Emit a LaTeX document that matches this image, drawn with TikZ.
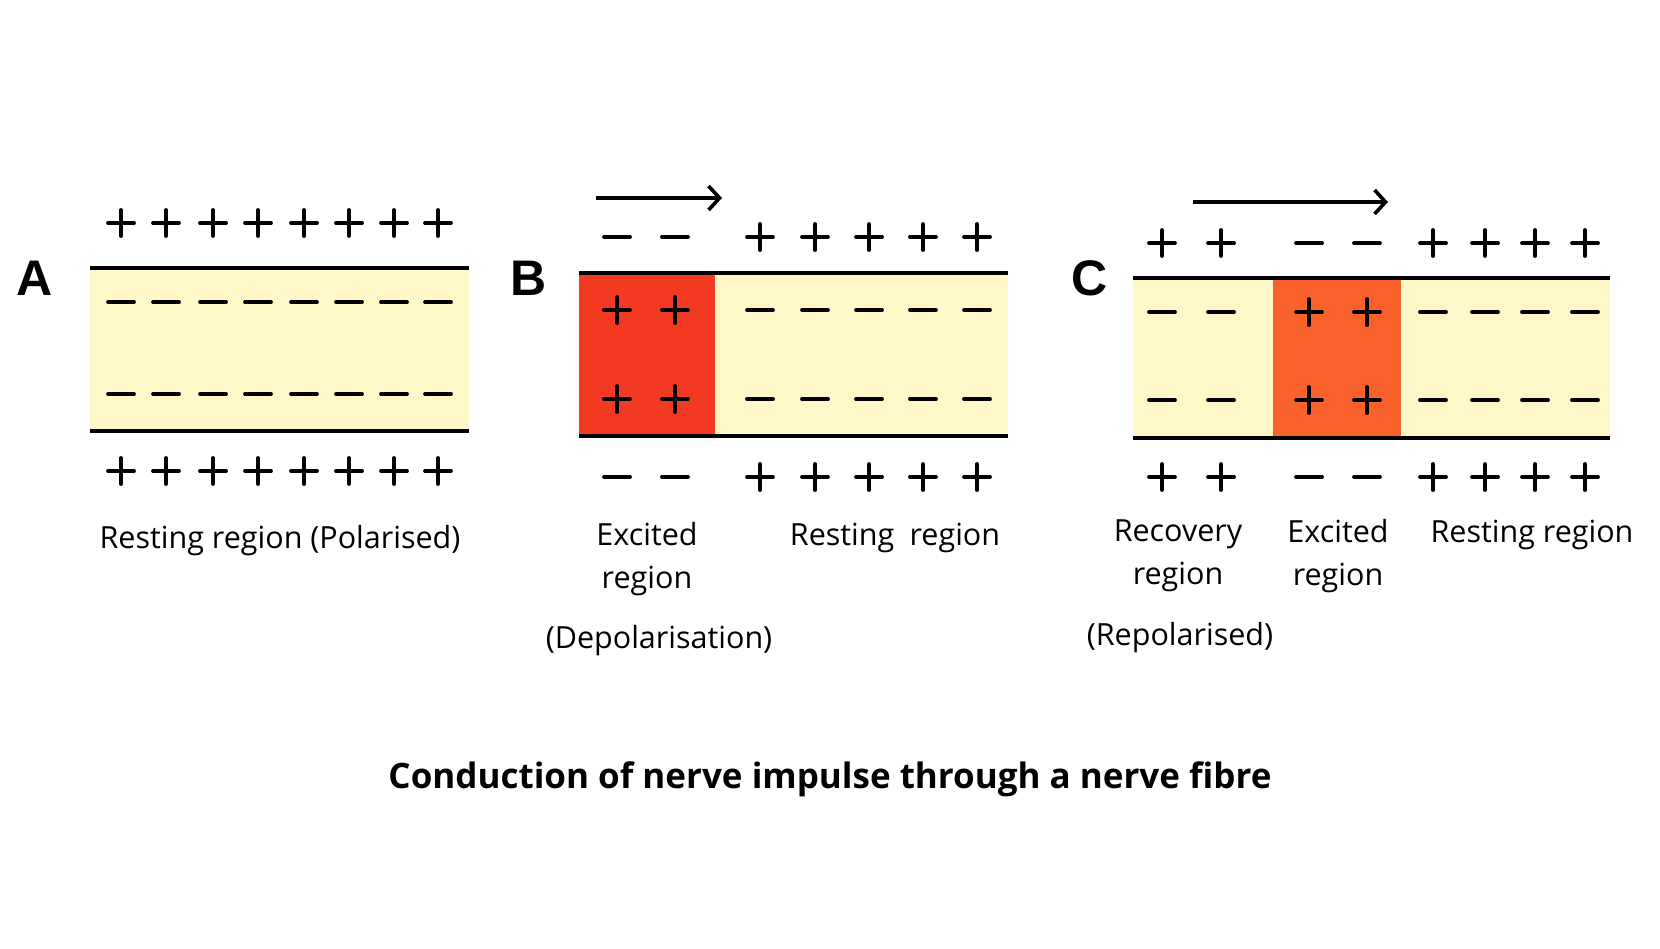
\documentclass[tikz,border=0pt]{standalone}
\usepackage{fontspec}
\setmainfont{Open Sans}
\newfontfamily\letterfont{Liberation Sans}
\usetikzlibrary{arrows.meta}
\definecolor{axo}{HTML}{FFF7C8}
\definecolor{exred}{HTML}{F23A22}
\definecolor{exorange}{HTML}{F9612B}
\tikzset{
  sign/.style={line width=3.8pt, line cap=round},
  membrane/.style={line width=4pt},
  lbl/.style={font=\fontsize{30.5}{43}\selectfont, align=center, inner sep=0pt},
  letter/.style={font=\fontsize{50}{50}\selectfont\letterfont\bfseries, inner sep=0pt},
  titlestyle/.style={font=\fontsize{35}{40}\selectfont\bfseries, inner sep=0pt},
  impulse/.style={line width=3.6pt, -{Straight Barb[length=11pt,width=24pt,line width=3.6pt]}},
  pics/plussign/.style={code={\draw[sign] (-13,0)--(13,0) (0,-13)--(0,13);}},
  pics/minussign/.style={code={\draw[sign] (-13,0)--(13,0);}},
}
\begin{document}
\begin{tikzpicture}[x=1pt,y=-1pt]
\useasboundingbox (0,0) rectangle (1660,948);
\fill[white] (0,0) rectangle (1660,948);

% ---------------- Panel A ----------------
\fill[axo] (90,268) rectangle (469,431);
\draw[membrane] (90,268) -- (469,268);
\draw[membrane] (90,431) -- (469,431);
\foreach \x in {121,166,213,258,304,349,394,438}{
  \pic at (\x,223) {plussign};
  \pic at (\x,302) {minussign};
  \pic at (\x,394) {minussign};
  \pic at (\x,471) {plussign};
}
\node[letter] (labA) at (35,278) {A};
\node[lbl] (restA) at (280,541) {Resting region (Polarised)};

% ---------------- Panel B ----------------
\fill[exred] (579,273) rectangle (715,436);
\fill[axo] (715,273) rectangle (1008,436);
\draw[membrane] (579,273) -- (1008,273);
\draw[membrane] (579,436) -- (1008,436);
\foreach \x in {617,675}{
  \pic at (\x,237) {minussign};
  \pic at (\x,310) {plussign};
  \pic at (\x,399) {plussign};
  \pic at (\x,477) {minussign};
}
\foreach \x in {760,815,869,923,977}{
  \pic at (\x,237) {plussign};
  \pic at (\x,310) {minussign};
  \pic at (\x,399) {minussign};
  \pic at (\x,477) {plussign};
}
\coordinate (bs) at (596,198);
\coordinate (be) at (722,198);
\draw[impulse] (bs) -- (be);
\node[letter] (labB) at (529,278) {B};
\node[lbl] (excB) at (647,559) {Excited\\region};
\node[lbl] (restB) at (895,538) {Resting\enspace region};
\node[lbl] (depB) at (659,641) {(Depolarisation)};

% ---------------- Panel C ----------------
\fill[axo] (1133,278) rectangle (1610,438);
\fill[exorange] (1273,278) rectangle (1401,438);
\draw[membrane] (1133,278) -- (1610,278);
\draw[membrane] (1133,438) -- (1610,438);
\foreach \x in {1162,1221,1433,1485,1535,1585}{
  \pic at (\x,243) {plussign};
  \pic at (\x,312) {minussign};
  \pic at (\x,400) {minussign};
  \pic at (\x,477) {plussign};
}
\foreach \x in {1309,1367}{
  \pic at (\x,243) {minussign};
  \pic at (\x,312) {plussign};
  \pic at (\x,400) {plussign};
  \pic at (\x,477) {minussign};
}
\coordinate (cs) at (1193,202);
\coordinate (ce) at (1388,202);
\draw[impulse] (cs) -- (ce);
\node[letter] (labC) at (1090,278) {C};
\node[lbl] (recC) at (1178,556) {Recovery\\region};
\node[lbl] (excC) at (1338,556) {Excited\\region};
\node[lbl] (restC) at (1532,535) {Resting region};
\node[lbl] (repC) at (1180,638) {(Repolarised)};

% ---------------- Title ----------------
\node[titlestyle] (title) at (830,779) {Conduction of nerve impulse through a nerve fibre};
\end{tikzpicture}
\end{document}
